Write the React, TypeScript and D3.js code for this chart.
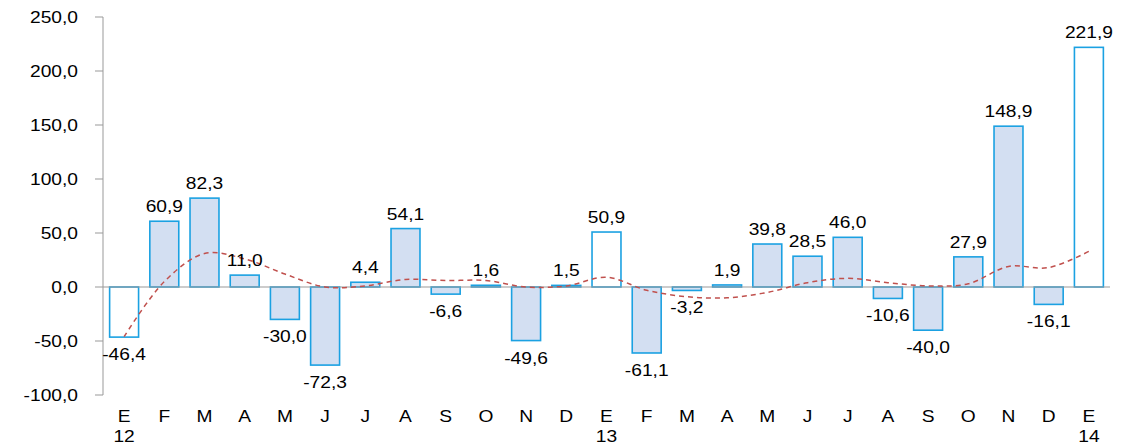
import React from 'react';
import * as d3 from 'd3';

const months = ['E','F','M','A','M','J','J','A','S','O','N','D','E','F','M','A','M','J','J','A','S','O','N','D','E'];
const years = ['12','','','','','','','','','','','','13','','','','','','','','','','','','14'];
const values = [-46.4,60.9,82.3,11.0,-30.0,-72.3,4.4,54.1,-6.6,1.6,-49.6,1.5,50.9,-61.1,-3.2,1.9,39.8,28.5,46.0,-10.6,-40.0,27.9,148.9,-16.1,221.9];
const trend = [-46,5,31,26,12,0,1,7,6,6,0,1,9,-3,-9,-10,-5,4,8,4,1,3,19,18,33];
const yTicks = [-100,-50,0,50,100,150,200,250];
const hollow = [0,12,24];

const fmt = (v: number) => v.toFixed(1).replace('.', ',');

// the source text is drawn a bit stretched sideways
const Label = ({ x, y, anchor = 'middle', children }: any) => (
  <text transform={`translate(${x},${y}) scale(1.2,1)`} textAnchor={anchor} fontSize={16}>{children}</text>
);

export default function App() {
  const W = 1124, H = 446;
  const axisX = 103;
  const y = d3.scaleLinear().domain([-100, 250]).range([395, 17]);
  const x = d3.scaleBand<number>().domain(d3.range(values.length)).range([104, 1109]).paddingInner(0.28).paddingOuter(0.14);
  const cx = (i: number) => x(i)! + x.bandwidth() / 2;
  const line = d3.line<number>().x((_, i) => cx(i)).y(d => y(d)).curve(d3.curveCatmullRom);
  const font = 'Liberation Sans, Arial, sans-serif';
  return (
    <svg width={W} height={H} style={{ position: 'absolute', left: 0, top: 0 }} fontFamily={font}>
      <line x1={axisX} x2={axisX} y1={y(250)} y2={y(-100)} stroke="#999" />
      {yTicks.map(t => (
        <g key={t}>
          <line x1={axisX - 8} x2={axisX} y1={y(t)} y2={y(t)} stroke="#999" />
          <Label x={78} y={y(t) + 6} anchor="end">{fmt(t)}</Label>
        </g>
      ))}
      {values.map((v, i) => (
        <rect key={i} x={x(i)} width={x.bandwidth()} y={y(Math.max(0, v))} height={Math.abs(y(v) - y(0))}
          fill={hollow.includes(i) ? '#fff' : '#d3dff2'} stroke="#1ba1e2" strokeWidth={1.6} />
      ))}
      <line x1={axisX} x2={1110} y1={y(0)} y2={y(0)} stroke="#999" />
      <path d={line(trend)!} fill="none" stroke="#c0504d" strokeWidth={1.5} strokeDasharray="5,4" />
      {values.map((v, i) => (
        <Label key={i} x={cx(i)} y={v >= 0 ? y(v) - 9 : y(v) + 23}>{fmt(v)}</Label>
      ))}
      {months.map((m, i) => (
        <g key={i}>
          <Label x={cx(i)} y={422}>{m}</Label>
          {years[i] && <Label x={cx(i)} y={442}>{years[i]}</Label>}
        </g>
      ))}
    </svg>
  );
}
